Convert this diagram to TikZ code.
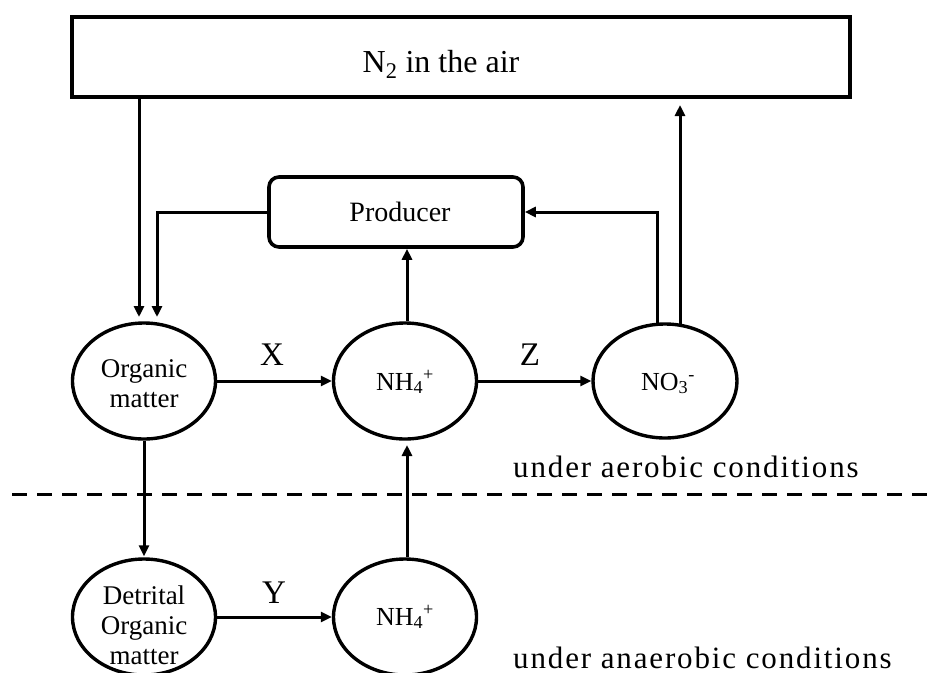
\documentclass[tikz,border=0pt]{standalone}
\usepackage{fontspec}
\setmainfont{Liberation Serif}
\newfontfamily\spacedfont[LetterSpace=6]{Liberation Serif}
\usetikzlibrary{shapes.geometric,arrows.meta}
\begin{document}
\begin{tikzpicture}[x=1pt,y=-1pt,
  ell/.style={draw,ellipse,line width=3.4pt,minimum width=143pt,minimum height=116pt,inner sep=0pt},
  boxline/.style={draw,line width=3.6pt},
  arr/.style={line width=3pt,-{Triangle[length=11pt,width=10pt]}},
  txt/.style={font=\fontsize{27}{30}\selectfont,align=center,inner sep=0pt},
  chem/.style={font=\fontsize{26}{30}\selectfont,inner sep=0pt},
  lett/.style={font=\fontsize{33}{36}\selectfont,inner sep=0pt},
  cond/.style={font=\spacedfont\fontsize{31}{36}\selectfont,inner sep=0pt,anchor=base west}]
\clip (0,0) rectangle (936,672);
\fill[white] (0,0) rectangle (936,672);

% top box
\node[boxline,rectangle,minimum width=778pt,minimum height=80pt,inner sep=0pt] (N2) at (461,57) {};
\node[font=\fontsize{32}{36}\selectfont,inner sep=0pt,anchor=base] (N2t) at (441,72) {N\textsubscript{2} in the air};

% producer
\node[boxline,rectangle,rounded corners=10pt,minimum width=254pt,minimum height=70pt,inner sep=0pt,
      font=\fontsize{28}{30}\selectfont] (Prod) at (396,212) {\hspace*{8pt}Producer};

% ellipses
\node[ell] (Org) at (144,381) {};
\node[txt] (Orgt) at (144,384) {Organic\\matter};
\node[ell] (NH4a) at (405,381) {};
\node[chem,anchor=base] (NH4at) at (405,390) {NH\textsubscript{4}\textsuperscript{+}};
\node[ell,minimum width=144pt,minimum height=114pt] (NO3) at (665,381) {};
\node[chem,anchor=base] (NO3t) at (668,390) {NO\textsubscript{3}\textsuperscript{-}};
\node[ell] (Det) at (144,617) {};
\node[txt] (Dett) at (144,625) {Detrital\\Organic\\matter};
\node[ell] (NH4b) at (405,617) {};
\node[chem,anchor=base] (NH4bt) at (405,625) {NH\textsubscript{4}\textsuperscript{+}};

% labels
\node[lett] (X) at (272,355) {X};
\node[lett] (Z) at (530,355) {Z};
\node[lett] (Y) at (274,593) {Y};

% connectors
\coordinate (a1) at (139,317);
\draw[arr] (N2.south -| a1) -- (a1);
\coordinate (a2) at (157,317);
\draw[arr] (Prod.west) -| (a2);
\draw[arr] (NH4a.north -| 407,0) -- (Prod.south -| 407,0);
\coordinate (b1) at (657,326);
\draw[arr] (b1) |- (Prod.east);
\coordinate (b2) at (680,105);
\draw[arr] (b2 |- NO3.north) ++(0,2) -- (b2);
\draw[arr] (Org.east) -- (NH4a.west);
\draw[arr] (NH4a.east) -- (NO3.west);
\draw[arr] (Det.east) -- (NH4b.west);
\draw[arr,shorten >=1pt] (Org.south) -- (Det.north);
\coordinate (c1) at (407,445);
\draw[arr] (NH4b.north -| c1) -- (c1);

% divider and conditions
\draw[line width=3pt,dash pattern=on 15pt off 10pt] (12,494) -- (936,494);
\node[cond] (aer) at (513,477) {under aerobic conditions};
\node[cond] (ana) at (513,668) {under anaerobic conditions};
\end{tikzpicture}
\end{document}
